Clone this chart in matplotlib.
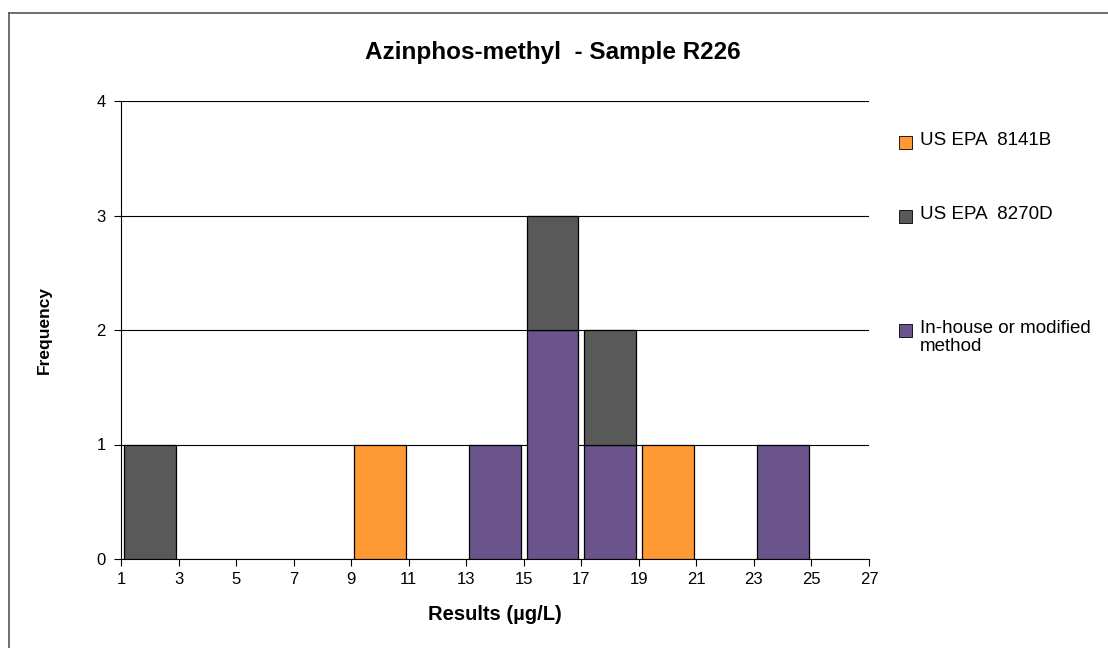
import matplotlib
matplotlib.use("Agg")
import matplotlib.pyplot as plt
from matplotlib.patches import Rectangle
from matplotlib.lines import Line2D
import numpy as np

plt.rcParams['font.family'] = ['Liberation Sans', 'DejaVu Sans']

# Histogram bins (µg/L) and counts per method
bin_edges = [1, 3, 5, 7, 9, 11, 13, 15, 17, 19, 21, 23, 25, 27]
series_names = ["US EPA  8141B", "US EPA  8270D", "In-house or modified\nmethod"]
series_colors = ["#FF9933", "#595959", "#6B538C"]
counts_8141b = [0, 0, 0, 0, 1, 0, 0, 0, 0, 1, 0, 0, 0]
counts_8270d = [1, 0, 0, 0, 0, 0, 0, 1, 1, 0, 0, 0, 0]
counts_inhouse = [0, 0, 0, 0, 0, 0, 1, 2, 1, 0, 0, 1, 0]
x_ticks = [1, 3, 5, 7, 9, 11, 13, 15, 17, 19, 21, 23, 25, 27]
y_ticks = [0, 1, 2, 3, 4]

W, H = 1108, 648
fig = plt.figure(figsize=(W / 100, H / 100), dpi=100)
ax = fig.add_axes([121 / W, 1 - 559 / H, (869 - 121) / W, (559 - 101) / H])

edges = np.array(bin_edges, dtype=float)
centers = (edges[:-1] + edges[1:]) / 2
width = 1.8

# stacked columns: in-house at the bottom, then 8270D, then 8141B
stack_order = [(counts_inhouse, series_colors[2]),
               (counts_8270d, series_colors[1]),
               (counts_8141b, series_colors[0])]
bottom = np.zeros(len(centers))
for vals, col in stack_order:
    v = np.array(vals, dtype=float)
    mask = v > 0
    ax.bar(centers[mask], v[mask], width=width, bottom=bottom[mask], color=col,
           edgecolor="black", linewidth=0.9, zorder=3)
    bottom += v

ax.set_xlim(1, 27)
ax.set_ylim(0, 4)
ax.set_xticks(x_ticks)
ax.set_yticks(y_ticks)
ax.tick_params(axis="both", labelsize=12, direction="out", length=5, width=0.8,
               colors="black")
ax.tick_params(axis="x", pad=4)
ax.tick_params(axis="y", pad=6)
ax.yaxis.grid(True, color="black", linewidth=0.8, zorder=0)
for s in ["top", "right"]:
    ax.spines[s].set_visible(False)
for s in ["left", "bottom"]:
    ax.spines[s].set_linewidth(0.8)

ax.set_xlabel("Results (µg/L)", fontsize=14.5, fontweight="bold", labelpad=13)
ax.set_ylabel("Frequency", fontsize=12.5, fontweight="bold", labelpad=32)

fig.text(553 / W, 1 - 52 / H, "Azinphos-methyl  - Sample R226", fontsize=17.5,
         fontweight="bold", ha="center", va="center")

# legend entries
legend_y = [142, 216, 330]
for name, col, yy in zip(series_names, series_colors, legend_y):
    fig.patches.append(Rectangle((899 / W, 1 - (yy + 7) / H), 13 / W, 13 / H,
                                 transform=fig.transFigure, facecolor=col,
                                 edgecolor="black", linewidth=0.6))
    fig.text(920 / W, 1 - (yy - 10) / H, name, fontsize=13.5, ha="left", va="top",
             linespacing=1.1)

# chart frame
fig.add_artist(Line2D([9 / W, 9 / W], [0, 1 - 13 / H], transform=fig.transFigure,
                      color="#555555", linewidth=1.2))
fig.add_artist(Line2D([9 / W, 1], [1 - 13 / H, 1 - 13 / H], transform=fig.transFigure,
                      color="#555555", linewidth=1.2))

fig.savefig("out.png", dpi=100)
